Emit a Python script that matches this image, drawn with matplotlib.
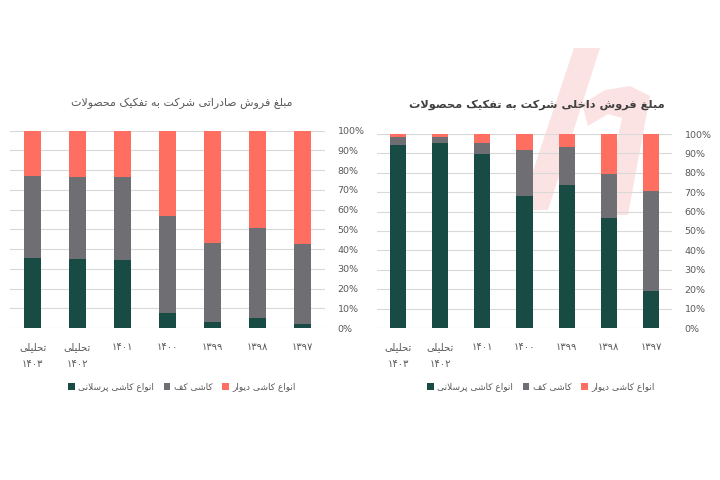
import matplotlib
matplotlib.use("Agg")
import matplotlib.pyplot as plt
from matplotlib.patches import Polygon
import numpy as np

# ---------------- data (display order, left to right) ----------------
categories = ["تحلیلی\n۱۴۰۳", "تحلیلی\n۱۴۰۲", "۱۴۰۱", "۱۴۰۰", "۱۳۹۹", "۱۳۹۸", "۱۳۹۷"]
series_names = ["انواع کاشی پرسلانی", "کاشی کف", "انواع کاشی دیوار"]

export_porcelain = [35.4, 34.9, 34.4, 7.6, 2.9, 5.2, 2.2]
export_floor = [41.7, 41.5, 42.0, 49.2, 40.1, 45.2, 40.3]
export_wall = [22.9, 23.6, 23.6, 43.2, 57.0, 49.6, 57.5]

domestic_porcelain = [94.2, 95.4, 89.7, 67.9, 73.5, 56.5, 19.2]
domestic_floor = [4.3, 3.1, 5.7, 23.7, 19.8, 22.9, 51.2]
domestic_wall = [1.5, 1.5, 4.6, 8.4, 6.7, 20.6, 29.6]

title_export = "مبلغ فروش صادراتی شرکت به تفکیک محصولات"
title_domestic = "مبلغ فروش داخلی شرکت به تفکیک محصولات"
yticks = [0, 10, 20, 30, 40, 50, 60, 70, 80, 90, 100]

colors = ["#174B43", "#6E6E73", "#FF6F61"]

# ---------------- minimal Persian shaping ----------------
FORMS = {
    'ا': ('\uFE8D', '\uFE8E', None, None),
    'آ': ('\uFE81', '\uFE82', None, None),
    'ب': ('\uFE8F', '\uFE90', '\uFE91', '\uFE92'),
    'پ': ('\uFB56', '\uFB57', '\uFB58', '\uFB59'),
    'ت': ('\uFE95', '\uFE96', '\uFE97', '\uFE98'),
    'ث': ('\uFE99', '\uFE9A', '\uFE9B', '\uFE9C'),
    'ج': ('\uFE9D', '\uFE9E', '\uFE9F', '\uFEA0'),
    'چ': ('\uFB7A', '\uFB7B', '\uFB7C', '\uFB7D'),
    'ح': ('\uFEA1', '\uFEA2', '\uFEA3', '\uFEA4'),
    'خ': ('\uFEA5', '\uFEA6', '\uFEA7', '\uFEA8'),
    'د': ('\uFEA9', '\uFEAA', None, None),
    'ذ': ('\uFEAB', '\uFEAC', None, None),
    'ر': ('\uFEAD', '\uFEAE', None, None),
    'ز': ('\uFEAF', '\uFEB0', None, None),
    'ژ': ('\uFB8A', '\uFB8B', None, None),
    'س': ('\uFEB1', '\uFEB2', '\uFEB3', '\uFEB4'),
    'ش': ('\uFEB5', '\uFEB6', '\uFEB7', '\uFEB8'),
    'ص': ('\uFEB9', '\uFEBA', '\uFEBB', '\uFEBC'),
    'ض': ('\uFEBD', '\uFEBE', '\uFEBF', '\uFEC0'),
    'ط': ('\uFEC1', '\uFEC2', '\uFEC3', '\uFEC4'),
    'ظ': ('\uFEC5', '\uFEC6', '\uFEC7', '\uFEC8'),
    'ع': ('\uFEC9', '\uFECA', '\uFECB', '\uFECC'),
    'غ': ('\uFECD', '\uFECE', '\uFECF', '\uFED0'),
    'ف': ('\uFED1', '\uFED2', '\uFED3', '\uFED4'),
    'ق': ('\uFED5', '\uFED6', '\uFED7', '\uFED8'),
    'ک': ('\uFB8E', '\uFB8F', '\uFB90', '\uFB91'),
    'گ': ('\uFB92', '\uFB93', '\uFB94', '\uFB95'),
    'ل': ('\uFEDD', '\uFEDE', '\uFEDF', '\uFEE0'),
    'م': ('\uFEE1', '\uFEE2', '\uFEE3', '\uFEE4'),
    'ن': ('\uFEE5', '\uFEE6', '\uFEE7', '\uFEE8'),
    'ه': ('\uFEE9', '\uFEEA', '\uFEEB', '\uFEEC'),
    'و': ('\uFEED', '\uFEEE', None, None),
    'ی': ('\uFBFC', '\uFBFD', '\uFBFE', '\uFBFF'),
}


def _dual(c):
    return c in FORMS and FORMS[c][2] is not None


def _shape_line(s):
    s = s.replace('\u0643', '\u06A9').replace('\u064A', '\u06CC')
    out = []
    i = 0
    n = len(s)
    while i < n:
        c = s[i]
        if c not in FORMS:
            out.append(c)
            i += 1
            continue
        prev_j = i > 0 and _dual(s[i - 1])
        if c == 'ل' and i + 1 < n and s[i + 1] in ('ا', 'آ'):
            out.append('\uFEFC' if prev_j else '\uFEFB')
            i += 2
            continue
        next_j = _dual(c) and i + 1 < n and s[i + 1] in FORMS
        iso, fin, ini, med = FORMS[c]
        if prev_j and next_j:
            out.append(med)
        elif prev_j:
            out.append(fin)
        elif next_j:
            out.append(ini)
        else:
            out.append(iso)
        i += 1
    shaped = ''.join(out)
    # visual order: reverse, keeping digit/latin runs LTR
    tokens = []
    cur = ''
    cur_ltr = None
    for ch in shaped:
        ltr = ch.isdigit() or ch.isascii() and ch.isalnum() or ch in '%.'
        if cur_ltr is None or ltr == cur_ltr:
            cur += ch
        else:
            tokens.append((cur, cur_ltr))
            cur = ch
        cur_ltr = ltr
    if cur:
        tokens.append((cur, cur_ltr))
    res = ''
    for tok, ltr in reversed(tokens):
        res += tok if ltr else tok[::-1]
    return res


def fa(s):
    return '\n'.join(_shape_line(line) for line in s.split('\n'))


plt.rcParams['font.family'] = ['DejaVu Sans']

fig = plt.figure(figsize=(7.2, 4.8), dpi=100)
fig.patch.set_facecolor('white')

# faint background logo (decorative watermark), drawn behind everything
W, H = 720.0, 480.0


def _fig_pts(pts):
    return [(x / W, 1 - y / H) for x, y in pts]


wm_color = '#FCE3E3'
fig.patches.append(Polygon(_fig_pts([(574, 48), (600, 48), (548, 210), (520, 210)]),
                           closed=True, transform=fig.transFigure, color=wm_color,
                           zorder=-5, lw=0))
fig.patches.append(Polygon(_fig_pts([(582, 104), (605, 90), (630, 86), (650, 96),
                                     (628, 215), (602, 215), (622, 118), (608, 114),
                                     (588, 126)]),
                           closed=True, transform=fig.transFigure, color=wm_color,
                           zorder=-5, lw=0))

ax_l = fig.add_axes([10 / 720, 1 - 328 / 480, 315 / 720, 197.5 / 480])
ax_r = fig.add_axes([377 / 720, 1 - 328 / 480, 295 / 720, 194 / 480])


def draw(ax, a, b, c):
    ax.set_facecolor('none')
    x = np.arange(len(categories))
    w = 0.38
    ax.bar(x, a, w, color=colors[0], zorder=3, label=fa(series_names[0]))
    ax.bar(x, b, w, bottom=a, color=colors[1], zorder=3, label=fa(series_names[1]))
    ax.bar(x, c, w, bottom=np.array(a) + np.array(b), color=colors[2], zorder=3,
           label=fa(series_names[2]))
    ax.set_xlim(-0.5, len(categories) - 0.5)
    ax.set_ylim(0, 100)
    ax.set_yticks(yticks)
    ax.set_yticklabels([f"{v}%" for v in yticks])
    ax.yaxis.tick_right()
    ax.tick_params(axis='y', length=0, pad=9, labelsize=6.8, labelcolor='#595959')
    ax.set_xticks(x)
    ax.set_xticklabels([fa(cat) for cat in categories])
    ax.tick_params(axis='x', length=0, pad=10, labelsize=7.2, labelcolor='#595959')
    for t in ax.get_xticklabels():
        t.set_linespacing(1.9)
    ax.grid(axis='y', color='#D9D9D9', linewidth=0.8, zorder=0)
    ax.set_axisbelow(True)
    for sp in ax.spines.values():
        sp.set_visible(False)


draw(ax_l, export_porcelain, export_floor, export_wall)
draw(ax_r, domestic_porcelain, domestic_floor, domestic_wall)

fig.text(182 / 720, 1 - 103 / 480, fa(title_export), ha='center', va='center',
         fontsize=7.9, color='#595959', zorder=5)
fig.text(537 / 720, 1 - 105 / 480, fa(title_domestic), ha='center', va='center',
         fontsize=8.2, color='#404040', fontweight='bold', zorder=5)

for ax, cx in ((ax_l, 182), (ax_r, 541)):
    h, l = ax.get_legend_handles_labels()
    fig.legend(h, l, loc='center', bbox_to_anchor=(cx / 720, 1 - 387 / 480),
               ncol=3, frameon=False, fontsize=6.5, handlelength=0.7,
               handleheight=0.7, handletextpad=0.4, columnspacing=1.1,
               labelcolor='#595959')

fig.savefig('out.png', dpi=100, facecolor='white')
